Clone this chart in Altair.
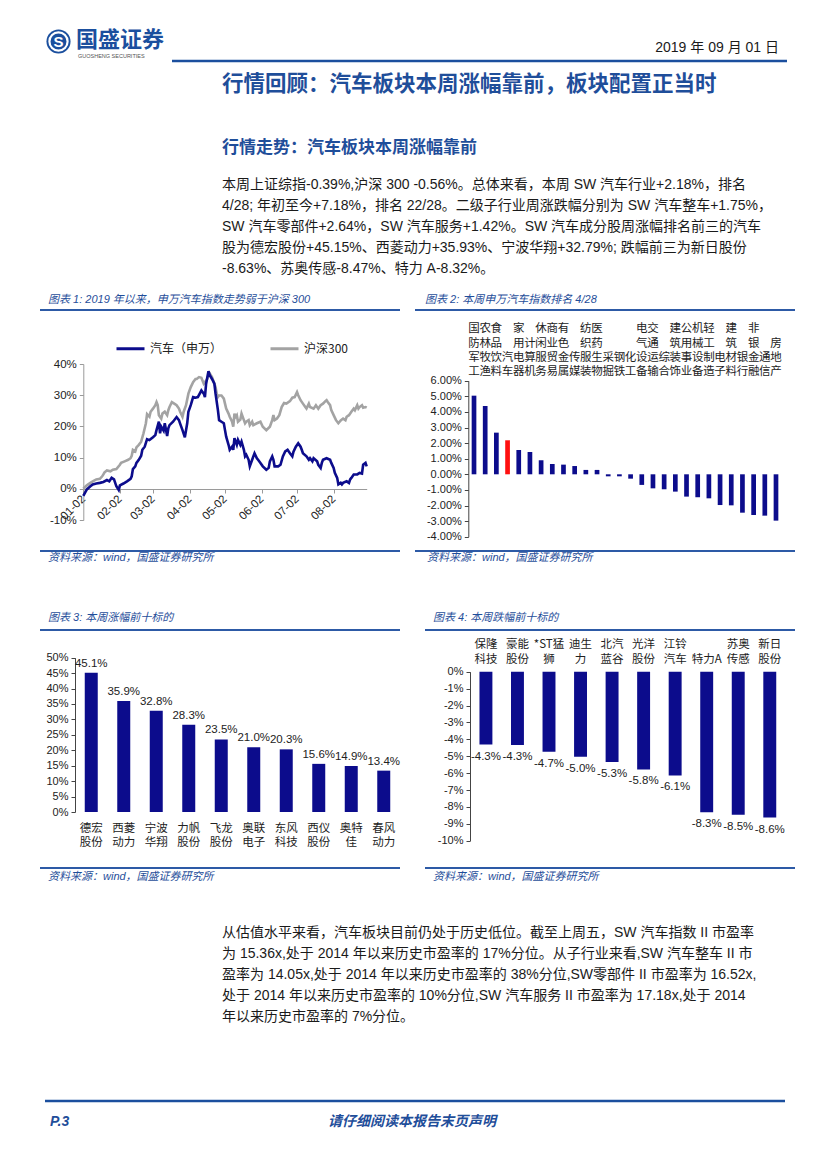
import altair as alt
import pandas as pd

# ---------------- data ----------------
car_md = ["01-02","01-05","01-08","01-10","01-13","01-16","01-19","01-22","01-24","01-26","01-28","01-30",
          "02-01","02-02","02-05","02-08","02-11","02-12","02-13","02-15","02-16","02-18","02-20","02-21","02-23","02-25","02-27",
          "03-02","03-04","03-05","03-07","03-08","03-09","03-11","03-12","03-14","03-15","03-16","03-19","03-22","03-24","03-25","03-27","03-29","03-31",
          "04-01","04-03","04-05","04-07","04-09","04-12","04-14","04-15","04-16","04-18","04-19","04-21","04-23","04-24","04-26","04-27","04-29",
          "05-01","05-02","05-03","05-05","05-06","05-08","05-09","05-10","05-12","05-13","05-15","05-16","05-18","05-19","05-20","05-22","05-23","05-25","05-26","05-27","05-29","05-30",
          "06-01","06-03","06-06","06-08","06-09","06-11","06-12","06-13","06-16","06-18","06-20","06-22","06-24","06-26","06-28","06-29",
          "07-01","07-03","07-05","07-06","07-07","07-10","07-12","07-13","07-15","07-16","07-19","07-20","07-22","07-23","07-24","07-27","07-30","07-31",
          "08-02","08-03","08-05","08-06","08-08","08-09","08-10","08-13","08-15","08-16","08-17","08-19","08-22","08-24","08-26","08-27","08-29","08-30"]
car_vals = [-2.3,-0.2,0.8,1.4,1.7,1.9,2.2,2.8,2.4,3.5,3.0,0.8,
            -0.4,1.1,1.7,2.4,3.2,4.0,6.3,7.2,8.3,9.3,10.6,12.5,13.5,15.9,15.6,
            16.5,17.2,18.8,21.5,17.8,19.9,18.6,21.0,16.9,19.4,20.4,21.5,23.0,22.0,20.9,18.8,16.5,21.0,
            24.7,26.8,29.4,29.2,29.4,31.5,30.5,29.4,33.7,37.7,36.5,35.2,33.7,30.5,25.2,22.0,21.5,
            21.0,18.8,16.7,14.1,12.5,13.5,12.5,16.2,14.1,15.7,14.1,15.1,12.5,10.4,10.9,9.3,7.2,9.3,10.4,11.4,9.8,9.3,
            8.3,7.2,6.1,6.7,8.8,10.4,9.3,7.2,7.2,7.7,10.4,12.0,12.5,11.4,10.4,11.9,
            13.5,14.6,13.5,12.5,11.4,10.4,9.3,9.8,8.8,9.8,8.8,7.7,6.7,8.3,9.3,9.8,9.3,8.3,
            6.7,5.1,3.5,1.4,1.9,1.4,1.9,2.4,1.9,3.0,3.5,4.6,4.6,5.1,4.9,7.7,8.3,7.2]

hs_md = ["01-02","01-05","01-08","01-10","01-13","01-16","01-18","01-19","01-20","01-22","01-25","01-27","01-30",
         "02-02","02-03","02-06","02-09","02-11","02-12","02-13","02-15","02-16","02-18","02-20","02-22","02-24","02-25","02-27","02-28",
         "03-02","03-04","03-05","03-06","03-07","03-09","03-10","03-12","03-14","03-15","03-16","03-18","03-20","03-22","03-24","03-25","03-27","03-28","03-30",
         "04-01","04-03","04-05","04-07","04-08","04-10","04-12","04-14","04-15","04-17","04-18","04-19","04-21","04-22","04-24","04-25","04-26","04-27","04-29",
         "05-01","05-02","05-03","05-05","05-06","05-08","05-09","05-10","05-11","05-12","05-13","05-15","05-16","05-18","05-19","05-20","05-22","05-23","05-25","05-26","05-29",
         "06-01","06-03","06-06","06-09","06-11","06-12","06-13","06-15","06-17","06-19","06-21","06-23","06-26","06-28","06-30",
         "07-02","07-03","07-05","07-07","07-09","07-10","07-12","07-13","07-16","07-18","07-20","07-22","07-24","07-26","07-27","07-28","07-30","07-31",
         "08-02","08-04","08-06","08-08","08-10","08-12","08-13","08-15","08-16","08-17","08-19","08-20","08-22","08-23","08-24","08-26","08-27","08-29","08-30"]
hs_vals = [0.0,1.1,1.9,2.4,3.0,3.2,4.0,4.6,5.3,5.9,5.6,6.1,6.3,
           7.7,8.3,8.8,9.3,9.8,10.6,12.5,12.0,13.3,14.1,15.1,17.8,21.0,23.9,23.1,24.7,
           25.7,26.8,27.8,26.8,23.6,22.5,24.1,24.7,23.6,25.2,26.2,27.8,27.3,26.8,25.7,24.7,23.1,24.7,26.8,
           30.5,32.6,34.2,35.2,35.2,35.8,35.6,33.7,34.2,35.2,36.3,37.0,35.8,34.7,32.6,30.5,29.4,29.9,29.9,
           28.9,27.3,25.7,24.1,23.1,21.5,19.9,24.1,23.1,23.6,21.5,22.2,24.1,22.0,21.0,21.5,22.0,20.4,21.5,20.4,21.0,
           21.5,19.9,18.8,19.9,22.0,23.6,22.0,22.5,23.6,26.2,27.5,27.3,28.1,29.2,29.4,
           31.0,30.0,28.4,27.3,26.2,25.7,27.3,26.2,25.7,26.8,25.7,26.8,27.3,28.1,28.4,27.8,26.8,25.2,
           23.6,22.0,21.0,21.9,22.5,22.0,23.1,23.6,24.1,24.7,25.7,25.2,26.8,25.7,26.2,26.8,26.0,26.2,26.0]
series_names = ["汽车（申万）", "沪深300"]

ind_names = ["国防军工","农林牧渔","食品饮料","汽车","家用电器","计算机","休闲服务","商业贸易","有色金属","传媒",
             "纺织服装","医药生物","采掘","钢铁","化工","电气设备","交通运输","综合","建筑装饰","公用事业",
             "机械设备","轻工制造","电子","建筑材料","银行","非银金融","通信","房地产"]
ind_vals = [5.04,4.38,2.67,2.18,1.56,1.43,0.90,0.66,0.62,0.53,
            0.28,0.28,-0.13,-0.13,-0.28,-0.68,-0.90,-0.96,-1.11,-1.43,
            -1.47,-1.54,-1.97,-1.99,-2.46,-2.61,-2.65,-2.97]

up_names = ["德宏股份","西菱动力","宁波华翔","力帆股份","飞龙股份","奥联电子","东风科技","西仪股份","奥特佳","春风动力"]
up_labels = ["德宏\n股份","西菱\n动力","宁波\n华翔","力帆\n股份","飞龙\n股份","奥联\n电子","东风\n科技","西仪\n股份","奥特\n佳","春风\n动力"]
up_vals = [45.15,35.93,32.79,28.3,23.5,21.0,20.3,15.6,14.9,13.4]

down_names = ["保隆科技","豪能股份","*ST猛狮","迪生力","北汽蓝谷","光洋股份","江铃汽车","特力A","苏奥传感","新日股份"]
down_labels = ["保隆\n科技","豪能\n股份","*ST猛\n狮","迪生\n力","北汽\n蓝谷","光洋\n股份","江铃\n汽车","特力A","苏奥\n传感","新日\n股份"]
down_vals = [-4.31,-4.33,-4.73,-5.03,-5.34,-5.78,-6.14,-8.32,-8.47,-8.63]

para1 = ("本周上证综指-0.39%,沪深 300  -0.56%。总体来看，本周 SW 汽车行业+2.18%，排名\n"
         "4/28; 年初至今+7.18%，排名 22/28。二级子行业周涨跌幅分别为 SW 汽车整车+1.75%，\n"
         "SW 汽车零部件+2.64%，SW 汽车服务+1.42%。SW 汽车成分股周涨幅排名前三的汽车\n"
         "股为德宏股份+45.15%、西菱动力+35.93%、宁波华翔+32.79%; 跌幅前三为新日股份\n"
         "-8.63%、苏奥传感-8.47%、特力 A-8.32%。")
para2 = ("从估值水平来看，汽车板块目前仍处于历史低位。截至上周五，SW 汽车指数 II 市盈率\n"
         "为 15.36x,处于 2014 年以来历史市盈率的 17%分位。从子行业来看,SW 汽车整车 II  市\n"
         "盈率为 14.05x,处于 2014 年以来历史市盈率的 38%分位,SW零部件 II  市盈率为 16.52x,\n"
         "处于 2014 年以来历史市盈率的 10%分位,SW 汽车服务 II  市盈率为 17.18x,处于 2014\n"
         "年以来历史市盈率的 7%分位。")

# ---------------- style ----------------
W, H = 811, 1153
def P(v):
    return v - 8

NAVY = "#0c0c8c"
GRAY = "#a3a3a3"
RED = "#ff1010"
BLUE = "#1f4e9a"
RULE = "#2d5aa6"
LOGO = "#1b4f9e"
SANS = "Liberation Sans, Noto Sans CJK SC, sans-serif"
CJK = "Noto Sans CJK SC, sans-serif"

one = pd.DataFrame({"k": [0]})


def label(s, x, y, size=14, color="#1a1a1a", weight="normal", style="normal",
          align="left", baseline="middle", font=SANS, lh=None):
    kw = dict(fontSize=size, color=color, fontWeight=weight, fontStyle=style,
              align=align, baseline=baseline, font=font)
    if lh:
        kw.update(lineBreak="\n", lineHeight=lh)
    return alt.Chart(pd.DataFrame({"t": [s]})).mark_text(**kw).encode(
        text="t:N", x=alt.value(P(x)), y=alt.value(P(y)))


def hrule(x1, x2, y, color=RULE, w=2.0):
    return alt.Chart(one).mark_rule(color=color, strokeWidth=w).encode(
        x=alt.value(P(x1)), x2=alt.value(P(x2)), y=alt.value(P(y)))


def ax(**kw):
    base = dict(title=None, grid=False, labelFont=SANS, labelFontSize=11, labelColor="#222",
                domainColor="#444", tickColor="#444", tickSize=4, labelPadding=3)
    base.update(kw)
    return alt.Axis(**base)


def dt(m, d):
    return alt.DateTime(year=2019, month=m, date=d, utc=True)


def pct1(v):
    return f"{v:.1f}%"


def stacked_rows(names, parts_list, nrows):
    """one row per text line, bottom-aligned into nrows lines"""
    recs = []
    for n, parts in zip(names, parts_list):
        for i, p in enumerate(parts):
            recs.append({"name": n, "row": nrows - len(parts) + i, "ch": p})
    return pd.DataFrame(recs)


def row_scale(top, bottom, nrows):
    return alt.Scale(type="point", domain=list(range(nrows)), range=[P(top), P(bottom)], padding=0)


# ---------------- chart 1: lines ----------------
c1 = pd.concat([
    pd.DataFrame({"date": ["2019-" + d for d in car_md], "val": car_vals, "series": series_names[0]}),
    pd.DataFrame({"date": ["2019-" + d for d in hs_md], "val": hs_vals, "series": series_names[1]}),
])
x1 = alt.X("date:T",
           scale=alt.Scale(type="utc", domain=[dt(1, 2), dt(8, 30)], range=[P(83.3), P(366.7)]),
           axis=ax(orient="bottom", offset=P(489) - H, values=[dt(m, 2) for m in range(1, 9)],
                   format="%m-%d", labelAngle=315, labelAlign="right", labelBaseline="middle",
                   labelFlush=False, labelOverlap=False, labelFontSize=11.5, labelPadding=4,
                   domainColor="#9a9a9a", tickColor="#9a9a9a"))
y1 = alt.Y("val:Q",
           scale=alt.Scale(domain=[-10, 40], range=[P(520), P(364)], nice=False),
           axis=ax(orient="left", offset=-P(83.3), values=[-10, 0, 10, 20, 30, 40],
                   labelExpr="datum.value + '%'", labelFontSize=11.5,
                   domainColor="#9a9a9a", tickColor="#9a9a9a"))
col1 = alt.Color("series:N",
                 scale=alt.Scale(domain=series_names, range=[NAVY, GRAY]),
                 legend=alt.Legend(orient="none", legendX=P(115), legendY=P(333), direction="horizontal",
                                   symbolType="stroke", symbolSize=784, symbolStrokeWidth=3,
                                   labelFont=CJK, labelFontSize=12, labelColor="#222",
                                   columnPadding=41, labelOffset=4, title=None, labelLimit=300))
line_hs = alt.Chart(c1).transform_filter(alt.datum.series == series_names[1]).mark_line(
    strokeWidth=2.6).encode(x=x1, y=y1, color=col1)
line_car = alt.Chart(c1).transform_filter(alt.datum.series == series_names[0]).mark_line(
    strokeWidth=2.6).encode(x=x1, y=y1, color=col1)
chart1 = alt.layer(line_hs, line_car)

# ---------------- chart 2: industry ranking ----------------
c2 = pd.DataFrame({"name": ind_names, "val": ind_vals})
c2rows = stacked_rows(ind_names, [list(n) for n in ind_names], 4)
sc2x = alt.Scale(type="band", range=[P(468.3), P(781.7)], paddingInner=0.58, paddingOuter=0.3)
sc2y = alt.Scale(domain=[-4, 6], range=[P(536.7), P(380.7)], nice=False)
bars2 = alt.Chart(c2).mark_bar().encode(
    x=alt.X("name:N", sort=ind_names, scale=sc2x,
            axis=ax(orient="bottom", offset=P(474.3) - H, labels=False, tickSize=3, bandPosition=0)),
    y=alt.Y("val:Q", scale=sc2y,
            axis=ax(orient="left", offset=-P(468.3), values=list(range(-4, 7)),
                    labelExpr="replace(format(datum.value, '.2f'), '\u2212', '-') + '%'")),
    y2=alt.datum(0),
    color=alt.condition(alt.datum.name == "汽车", alt.value(RED), alt.value(NAVY)))
labs2 = alt.Chart(c2rows).mark_text(baseline="middle", align="center",
                                    fontSize=11.5, font=CJK, color="#222").encode(
    x=alt.X("name:N", sort=ind_names, scale=sc2x, axis=None),
    y=alt.Y("row:O", scale=row_scale(329.3, 372, 4), axis=None),
    text="ch:N")
chart2 = alt.layer(bars2, labs2).resolve_scale(y="independent")

# ---------------- chart 3: top gainers ----------------
c3 = pd.DataFrame({"name": up_names, "val": up_vals, "v": [pct1(v) for v in up_vals]})
c3rows = stacked_rows(up_names, [s.split("\n") for s in up_labels], 2)
sc3x = alt.Scale(type="band", range=[P(75), P(400)], paddingInner=0.6, paddingOuter=0.3)
sc3y = alt.Scale(domain=[0, 50], range=[P(812), P(657.7)], nice=False)
bars3 = alt.Chart(c3).mark_bar(color=NAVY).encode(
    x=alt.X("name:N", sort=up_names, scale=sc3x,
            axis=ax(orient="bottom", offset=P(812) - H, labels=False, ticks=False)),
    y=alt.Y("val:Q", scale=sc3y,
            axis=ax(orient="left", offset=-P(75), values=list(range(0, 55, 5)),
                    labelExpr="datum.value + '%'")),
    y2=alt.datum(0))
vals3 = alt.Chart(c3).mark_text(
    baseline="bottom", align="center", dy=-4, fontSize=11.5, font=SANS, color="#222").encode(
    x=alt.X("name:N", sort=up_names, scale=sc3x, axis=None),
    y=alt.Y("val:Q", scale=sc3y, axis=None), text="v:N")
labs3 = alt.Chart(c3rows).mark_text(baseline="middle", align="center",
                                    fontSize=11.5, font=CJK, color="#222").encode(
    x=alt.X("name:N", sort=up_names, scale=sc3x, axis=None),
    y=alt.Y("row:O", scale=row_scale(828.7, 842.7, 2), axis=None),
    text="ch:N")
chart3 = alt.layer(bars3, vals3, labs3).resolve_scale(y="independent")

# ---------------- chart 4: top losers ----------------
c4 = pd.DataFrame({"name": down_names, "val": down_vals, "v": [pct1(v) for v in down_vals]})
c4rows = stacked_rows(down_names, [s.split("\n") for s in down_labels], 2)
sc4x = alt.Scale(type="band", range=[P(470), P(785.7)], paddingInner=0.59, paddingOuter=0.3)
sc4y = alt.Scale(domain=[-10, 0], range=[P(840.7), P(671.7)], nice=False)
bars4 = alt.Chart(c4).mark_bar(color=NAVY).encode(
    x=alt.X("name:N", sort=down_names, scale=sc4x,
            axis=ax(orient="top", offset=-P(671.7), labels=False, tickSize=5, bandPosition=0)),
    y=alt.Y("val:Q", scale=sc4y,
            axis=ax(orient="left", offset=-P(470), values=list(range(-10, 1)),
                    labelExpr="datum.value + '%'")),
    y2=alt.datum(0))
vals4 = alt.Chart(c4).mark_text(
    baseline="top", align="center", dy=6, fontSize=11.5, font=SANS, color="#222").encode(
    x=alt.X("name:N", sort=down_names, scale=sc4x, axis=None),
    y=alt.Y("val:Q", scale=sc4y, axis=None), text="v:N")
labs4 = alt.Chart(c4rows).mark_text(baseline="middle", align="center",
                                    fontSize=11.5, font=CJK, color="#222").encode(
    x=alt.X("name:N", sort=down_names, scale=sc4x, axis=None),
    y=alt.Y("row:O", scale=row_scale(645, 660.3, 2), axis=None),
    text="ch:N")
chart4 = alt.layer(bars4, vals4, labs4).resolve_scale(y="independent")

# ---------------- page decoration ----------------
logo_c = alt.Chart(one).mark_point(shape="circle", filled=True, size=580, color=LOGO, opacity=1).encode(
    x=alt.value(P(58.5)), y=alt.value(P(41.5)))
logo_r = alt.Chart(one).mark_point(shape="circle", filled=False, size=330, color="white",
                                   strokeWidth=2.2, opacity=1).encode(
    x=alt.value(P(58.5)), y=alt.value(P(41.5)))

page = [
    logo_c, logo_r,
    label("S", 58.5, 42, size=15, color="white", weight="bold", align="center"),
    label("国盛证券", 76, 40, size=22, color=LOGO, weight="bold", font=CJK),
    label("GUOSHENG SECURITIES", 78, 56, size=5.5, color="#555"),
    label("2019 年 09 月 01 日", 779, 48, size=14, align="right", font=SANS),
    hrule(172, 787, 61, color=LOGO, w=2.5),
    label("行情回顾：汽车板块本周涨幅靠前，板块配置正当时", 222, 84.5, size=21.5, color=BLUE,
          weight="bold", font=CJK),
    label("行情走势：汽车板块本周涨幅靠前", 222, 148, size=17, color=BLUE, weight="bold", font=CJK),
    label(para1, 222, 178.3, size=14, baseline="top", lh=21),
    # figure frames
    label("图表 1: 2019 年以来，申万汽车指数走势弱于沪深 300", 48, 299.5, size=11, color=BLUE, style="italic"),
    hrule(40, 400, 310),
    hrule(40, 400, 551),
    label("资料来源：wind，国盛证券研究所", 48, 558, size=11, color=BLUE, style="italic"),
    label("图表 2: 本周申万汽车指数排名 4/28", 425, 299.5, size=11, color=BLUE, style="italic"),
    hrule(415, 795, 310),
    hrule(415, 795, 551),
    label("资料来源：wind，国盛证券研究所", 427, 558, size=11, color=BLUE, style="italic"),
    label("图表 3: 本周涨幅前十标的", 48, 617.5, size=11, color=BLUE, style="italic"),
    hrule(40, 400, 630),
    hrule(40, 400, 868),
    label("资料来源：wind，国盛证券研究所", 48, 877, size=11, color=BLUE, style="italic"),
    label("图表 4: 本周跌幅前十标的", 433, 617.5, size=11, color=BLUE, style="italic"),
    hrule(425, 795, 630),
    hrule(425, 795, 868),
    label("资料来源：wind，国盛证券研究所", 433, 877, size=11, color=BLUE, style="italic"),
    label(para2, 222, 926.3, size=14, baseline="top", lh=21),
    hrule(45, 785, 1101, color=LOGO, w=2.5),
    label("P.3", 50, 1122, size=14, color=BLUE, weight="bold", style="italic"),
    label("请仔细阅读本报告末页声明", 412, 1122, size=14, color=BLUE, weight="bold", style="italic",
          align="center", font=CJK),
]

chart = alt.layer(*page, chart1, chart2, chart3, chart4).resolve_scale(
    x="independent", y="independent", color="independent"
).properties(
    width=W, height=H, autosize=alt.AutoSizeParams(type="none"), padding=0, background="white"
).configure_view(strokeWidth=0).configure_axis(grid=False)

chart.save("out.html", embed_options={"renderer": "svg", "actions": False})
